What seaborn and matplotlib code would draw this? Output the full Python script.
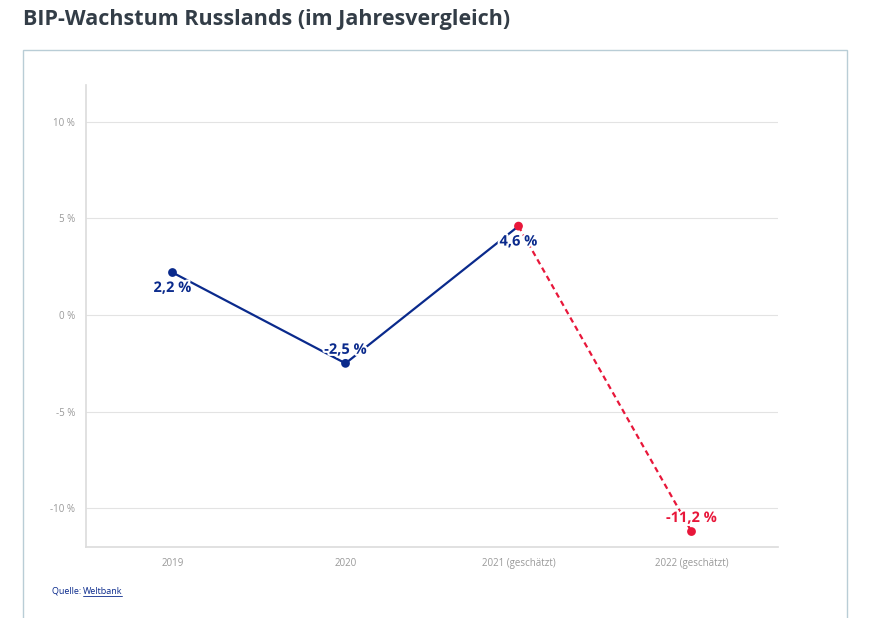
import matplotlib
matplotlib.use("Agg")
import matplotlib.pyplot as plt
import matplotlib.patheffects as pe
import seaborn as sns
import pandas as pd
from matplotlib.patches import Rectangle

years = ["2019", "2020", "2021 (geschätzt)", "2022 (geschätzt)"]
growth = [2.2, -2.5, 4.6, -11.2]
labels = ["2,2 %", "-2,5 %", "4,6 %", "-11,2 %"]
yticks = [-10, -5, 0, 5, 10]
ytick_labels = ["-10 %", "-5 %", "0 %", "5 %", "10 %"]

blue = "#0a2a8c"
red = "#e8173a"

sns.set_theme(style="white")
plt.rcParams["font.family"] = ["Open Sans", "DejaVu Sans"]

fig = plt.figure(figsize=(8.86, 6.18), dpi=100)
fig.patches.append(Rectangle((23 / 886, -0.01), 824 / 886, 1 - 50 / 618 + 0.01,
                             transform=fig.transFigure, fill=False,
                             edgecolor="#b9cdd6", linewidth=1))
fig.text(23 / 886, 1 - 20 / 618, "BIP-Wachstum Russlands (im Jahresvergleich)",
         fontsize=15.5, fontweight="bold", color="#333d47", va="center")
fig.text(52 / 886, 1 - 591 / 618, "Quelle: ", fontsize=6.5, color=blue, va="center")
fig.text(83 / 886, 1 - 591 / 618, "Weltbank", fontsize=6.5, color=blue, va="center")
fig.add_artist(plt.Line2D([83 / 886, 122 / 886], [1 - 596 / 618] * 2, color=blue, lw=0.6))

ax = fig.add_axes([86 / 886, 71 / 618, 692 / 886, 462 / 618])
df = pd.DataFrame({"x": range(4), "y": growth})
sns.lineplot(data=df.iloc[:3], x="x", y="y", ax=ax, color=blue, lw=1.6)
sns.lineplot(data=df.iloc[2:], x="x", y="y", ax=ax, color=red, lw=1.6, linestyle=(0, (2.5, 1.8)))
sns.scatterplot(data=df.iloc[:2], x="x", y="y", ax=ax, color=blue, s=40, edgecolor="none", zorder=4)
sns.scatterplot(data=df.iloc[2:], x="x", y="y", ax=ax, color=red, s=40, edgecolor="none", zorder=4)

offsets = [-0.8, 0.7, -0.8, 0.7]
for i, (v, t) in enumerate(zip(growth, labels)):
    c = red if i == 3 else blue
    ax.text(i, v + offsets[i], t, ha="center", va="center", fontsize=10.5, fontweight="bold", color=c,
            path_effects=[pe.withStroke(linewidth=3, foreground="white")], zorder=5)

ax.set_xlim(-0.5, 3.5)
ax.set_ylim(-12, 11.9)
ax.set_xticks(range(4))
ax.set_xticklabels(years)
ax.set_yticks(yticks)
ax.set_yticklabels(ytick_labels)
ax.set_xlabel("")
ax.set_ylabel("")
ax.tick_params(axis="both", labelsize=7, colors="#999999", length=0, pad=8)
ax.grid(axis="y", color="#e3e3e3", lw=0.8)
for s in ["top", "right"]:
    ax.spines[s].set_visible(False)
for s in ["left", "bottom"]:
    ax.spines[s].set_color("#dddddd")

fig.savefig("out.png", dpi=100)
